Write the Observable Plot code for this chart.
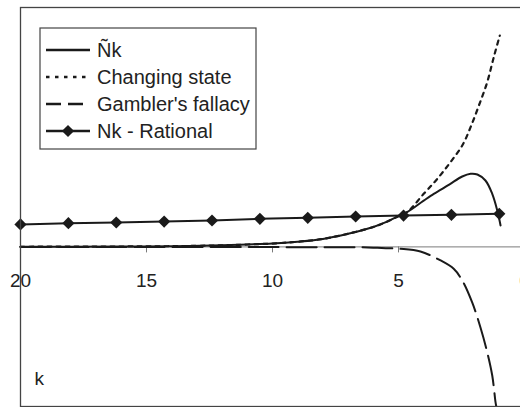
<!DOCTYPE html>
<html>
<head>
<meta charset="utf-8">
<script src="https://cdn.jsdelivr.net/npm/d3@7"></script>
<script src="https://cdn.jsdelivr.net/npm/@observablehq/plot@0.6"></script>
<style>
  html, body { margin: 0; padding: 0; background: #fff; overflow: hidden; }
  #wrap { position: relative; width: 520px; height: 407px; overflow: hidden; }
  #legend { position: absolute; left: 0; top: 0; }
</style>
</head>
<body>
<div id="wrap"></div>
<script>
// ---- data ----
const seriesNames = ["Ñk", "Changing state", "Gambler's fallacy", "Nk - Rational"];

const tildeK   = [20, 18, 16, 14, 12, 11, 10, 9, 8, 7, 6, 5.5, 5, 4.66, 4.0, 3.6, 3.3, 2.94, 2.47, 2.14, 1.87, 1.55, 1.28, 1.08, 0.95];
const tildeN   = [0.002, 0.003, 0.005, 0.009, 0.02, 0.03, 0.042, 0.065, 0.1, 0.165, 0.25, 0.31, 0.385, 0.435, 0.58, 0.665, 0.72, 0.791, 0.882, 0.916, 0.907, 0.832, 0.665, 0.456, 0.268];

const changeK  = [20, 18, 16, 14, 12, 11, 10, 9, 8, 7, 6, 5.5, 5, 4.66, 4.0, 3.46, 2.94, 2.47, 2.14, 1.81, 1.48, 1.22, 0.98];
const changeN  = [0.002, 0.003, 0.005, 0.009, 0.02, 0.03, 0.042, 0.065, 0.1, 0.165, 0.25, 0.31, 0.385, 0.435, 0.665, 0.853, 1.061, 1.271, 1.50, 1.772, 2.064, 2.377, 2.649];

const gamblerK = [20, 16, 12, 9, 7, 6.5, 6, 5.5, 4.92, 4.13, 3.33, 2.81, 2.47, 2.08, 1.75, 1.48, 1.28, 1.15, 1.12];
const gamblerN = [-0.001, -0.001, -0.002, -0.003, -0.004, -0.005, -0.01, -0.016, -0.024, -0.058, -0.170, -0.274, -0.421, -0.693, -1.006, -1.319, -1.612, -1.946, -2.0];

const ratK     = [20, 18.1, 16.2, 14.3, 12.4, 10.5, 8.6, 6.7, 4.8, 2.9, 1.0];
const ratN     = [0.281, 0.297, 0.306, 0.318, 0.331, 0.352, 0.365, 0.381, 0.393, 0.402, 0.415];

const xTicks   = [20, 15, 10, 5, 0];
const axisLabel = "k";

// ---- build ----
const zip = (xs, ys) => xs.map((k, i) => ({k, v: ys[i]}));
const tilde = zip(tildeK, tildeN);
const change = zip(changeK, changeN);
const gambler = zip(gamblerK, gamblerN);
const rational = zip(ratK, ratN);

const ink = "#1a1a1a";
const font = "'Liberation Sans', Arial, Helvetica, sans-serif";

const chart = Plot.plot({
  width: 520,
  height: 407,
  marginLeft: 20,
  marginRight: -4,
  marginTop: 7,
  marginBottom: 1,
  style: {fontFamily: font, background: "#fff", overflow: "hidden"},
  x: {domain: [20, 0], range: [20, 524], axis: null},
  y: {domain: [-2, 3], range: [406, 7], axis: null},
  marks: [
    Plot.ruleY([0], {stroke: "#7a7a7a", strokeWidth: 1}),
    Plot.ruleX(xTicks, {x: d => d, y1: 0, y2: 0, insetBottom: -6, stroke: "#7a7a7a", strokeWidth: 1}),
    Plot.text(xTicks, {x: d => d, y: 0, dy: 34, text: d => String(d), fontSize: 19, fill: "#222"}),
    Plot.text([axisLabel], {frameAnchor: "bottom-left", dx: 14, dy: -22, text: d => d, fontSize: 19, fill: "#222", textAnchor: "start"}),
    Plot.line(gambler, {x: "k", y: "v", curve: "catmull-rom", stroke: ink, strokeWidth: 2, strokeDasharray: "30,8"}),
    Plot.line(change, {x: "k", y: "v", curve: "catmull-rom", stroke: ink, strokeWidth: 2.2, strokeDasharray: "4,5"}),
    Plot.line(tilde, {x: "k", y: "v", curve: "catmull-rom", stroke: ink, strokeWidth: 2}),
    Plot.line(rational, {x: "k", y: "v", stroke: ink, strokeWidth: 2}),
    Plot.dot(rational, {x: "k", y: "v", symbol: "diamond2", r: 5.5, fill: ink, stroke: "none"}),
    Plot.frame({stroke: "#444", strokeWidth: 1.3})
  ]
});

const wrap = document.getElementById("wrap");
wrap.appendChild(chart);

// ---- legend (overlay) ----
const legendBox = {x: 40, y: 28, w: 216, h: 121};
const rowY = [50, 77, 104, 131];
const lg = d3.select(wrap).append("svg")
  .attr("id", "legend").attr("width", 520).attr("height", 407);
lg.append("rect")
  .attr("x", legendBox.x).attr("y", legendBox.y)
  .attr("width", legendBox.w).attr("height", legendBox.h)
  .attr("fill", "#fff").attr("stroke", "#444").attr("stroke-width", 1.2);
const dashes = [null, "3.5,5.5", "15,7", null];
seriesNames.forEach((name, i) => {
  const y = rowY[i];
  lg.append("line").attr("x1", 46).attr("x2", 90).attr("y1", y).attr("y2", y)
    .attr("stroke", ink).attr("stroke-width", 2.4)
    .attr("stroke-dasharray", dashes[i]);
  if (i === 3) {
    lg.append("path").attr("d", d3.symbol(d3.symbolDiamond2, Math.PI * 5.5 * 5.5)())
      .attr("transform", `translate(68,${y})`).attr("fill", ink);
  }
  lg.append("text").attr("x", 97).attr("y", y).attr("dy", "0.35em")
    .attr("font-family", font).attr("font-size", 20).attr("fill", "#222")
    .text(name);
});
</script>
</body>
</html>
